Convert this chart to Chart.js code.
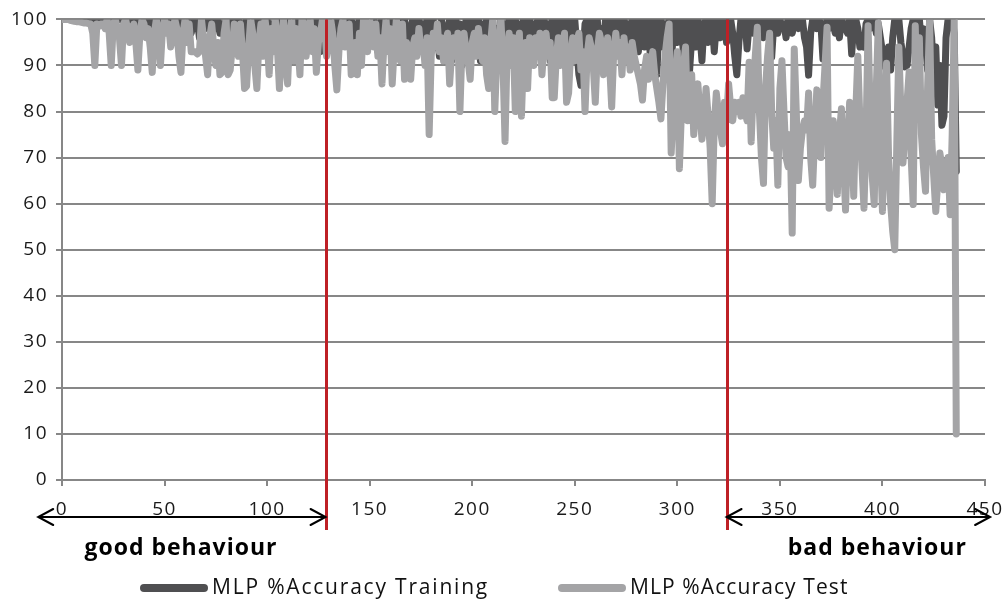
<!DOCTYPE html>
<html>
<head>
<meta charset="utf-8">
<script src="https://cdn.jsdelivr.net/npm/chart.js@4.4.1/dist/chart.umd.min.js"></script>
<style>
  html, body { margin: 0; padding: 0; background: #fff; }
  #wrap { width: 1005px; height: 603px; }
</style>
</head>
<body>
<div id="wrap"><canvas id="accChart" width="1005" height="603"></canvas></div>
<script>
// accuracy per run (index = run number)
const trainAcc = [
  100,100,100,100,100,100,100,100,100,100,
  100,100,100,100,100,100,100,100,100,100,
  100,100,99.5,100,100,100,99.5,100,100,100,
  100,100,99.5,100,100,100,100,99,97,98,
  100,99,100,100,98.5,100,100,99,100,100,
  99,100,100,97,100,99,100,98,100,99,
  96,99,100,97,99.5,98,100,96,99,100,
  98,100,99,96.5,100,98,100,97,99,96.5,
  100,99,97,100,95,99,100,97,93,99,
  100,96,98,93,100,97,95,100,93,98,
  100,94,99,97,100,93,98,100,95,99,
  100,96,93,99,100,95,98,100,97,94,
  100,98,95,99,100,96,93,100,99,97,
  100,95,98,94,100,97,99,95,100,96,
  98,100,94,99,97,100,95,98,100,96,
  99,95,100,97,93,99,100,96,98,94,
  100,97,95,99,100,94,98,100,96,92,
  98,100,94,97,100,95,99,96,100,93,
  99,100,94,97,92,100,96,93,98,100,
  91,97,100,94,99,90,96,100,92,98,
  100,93,97,100,91,99,95,100,94,97,
  100,92,98,95,100,93,99,96,100,91,
  97,100,94,99,92,100,95,98,100,93,
  99,96,100,92,97,100,94,99,91,100,
  96,100,93,98,100,90,97,100,95,99,
  100,94,88,85.7,92,99,100,96,93,100,
  97,100,91,98,95,100,93,99,100,94,
  98,100,92,97,100,95,99,91,100,96,
  100,93,98,100,94,97,100,90,96,100,
  88,98,100,94,99,96,100,90,97,100,
  95,99,100,92,98,100,89,96,100,94,
  100,97,91,99,100,95,98,100,93,99,
  100,96,99,100,95,98,100,97,92,88,
  95,100,98,100,93.6,99,100,97,100,98,
  100,99,96,100,98,100,91.8,99,100,97,
  100,98,99,96,100,100,97,99,100,98,
  99,100,96,94,87.9,97,100,99,98,100,
  99,91.4,97,100,98,100,99,97,100,96,
  100,99,98,97,100,92.5,99,100,98,94,
  95,94,99,100,98,100,100,97,99,96,
  93,90,89,94,89,96,100,98,100,95,
  92,89.7,90,94,98,100,97,96,100,95,
  98,95,89,100,96,87,94,81.4,90,77,
  79,96,100,99,100,97,67
];

const testAcc = [
  100,100,100,100,99.8,99.7,99.6,99.5,99.5,99.4,
  99.3,99.2,99.2,99.1,99,97,90,99,98.5,99,
  99,98,100,97,90,99,100,98,96,90,
  99,100,98,95,97,99,95,89,97,100,
  99,96,98,94,88.5,97,100,96,90,98,
  100,97,99,94,96,100,98,92,88.5,97,
  100,95,99,93,93,93,92.5,93,100,96,
  92,88,96,99,94,90,95,88,88.5,97,
  100,88,89,94,99,96,92,99,93,85,
  85.5,94,100,97,90,85,95,99,92,100,
  96,88,98,93,100,94,85,96,100,90,
  86,97,100,91,98,95,88,100,99,92,
  96,100,93,98,88.5,95,97,100,99,92,
  95,100,97,90,84.7,93,98,100,94,97,
  99,88,92,95,88,97,90,100,96,93,
  100,97,94,99,92,96,86,95,100,93,
  98,86,94,100,96,91,99,87,95,93,
  87,94,96,92,98,93,95,90,96,75,
  92,97,94,99,93,96,91,95,97,86,
  93,96,92,97,80,94,97,93,91,87,
  95,97,92,98,94,91,96,88,85,95,
  100,80,92,95,100,90,73.5,93,97,90,
  96,80,94,97,79,92,95,85,96,93,
  90,96,93,97,88,94,97,92,95,83,
  83,92,96,90,94,97,82,84,93,96,
  91,95,97,89,93,80,92,96,94,90,
  82,93,97,95,88,92,96,90,81,93,
  97,92,95,88,96,91,94,89,95,92,
  90,88,86,82.5,89,92,87,90,93,88,
  85,82,78.4,86,92,96,99,71,80,88,
  93,67.6,80,90,94,78,85,88,75,82,
  86,80,74,78,85,79,72,60,77,84,
  80,76,73,82,78,86,81,78,82,80,
  82,79,83,80,78,90.7,73.4,85,92,98.3,
  80,70,64.4,85,92,97,80,72,78,64,
  85,91,80,70,68,75,53.6,93.6,80,65,
  72,76,78,76,84,70,64,75,84.7,78,
  70,82,90,98.3,59,68,78,73,62,75,
  80.6,70,58.6,72,82,75,61.6,80,92,78,
  68,59,75,98.6,80,66,59.8,85,99.3,72,
  58.3,75,90.5,70,60,54,50,73,94,80,
  68.8,75,82,88.6,70,59.8,98.6,80,96,75,
  68,62.7,85,100,74,66,58.3,65,71,68,
  63,66,70,57.6,75,100,10
];

const seriesNames = ['MLP %Accuracy Training', 'MLP %Accuracy Test'];
const seriesColors = ['#4f4f51', '#a4a4a6'];

// x positions of the red separators and the behaviour spans below the axis
const boundaries = [128.5, 324];
const regions = [
  { from: -11.6, to: 128.5, labelAt: 58, text: 'good behaviour' },
  { from: 324, to: 452.5, labelAt: 397.5, text: 'bad behaviour' }
];

const gridColor = '#878787';
const tickFont = { family: 'Open Sans', size: 19 };

function toPoints(arr) {
  return arr.map((v, i) => ({ x: i, y: v }));
}

const overlay = {
  id: 'overlay',
  beforeDraw(chart) {
    chart.ctx.letterSpacing = '1.5px';
  },
  afterDatasetsDraw(chart) {
    const ctx = chart.ctx;
    const xs = chart.scales.x;
    const area = chart.chartArea;
    ctx.save();
    ctx.strokeStyle = '#be2026';
    ctx.lineWidth = 3;
    boundaries.forEach(b => {
      const px = Math.round(xs.getPixelForValue(b)) + 0.5;
      ctx.beginPath();
      ctx.moveTo(px, area.top);
      ctx.lineTo(px, area.bottom + 50);
      ctx.stroke();
    });
    ctx.restore();
  },
  afterDraw(chart) {
    const ctx = chart.ctx;
    const xs = chart.scales.x;
    const area = chart.chartArea;
    const arrowY = area.bottom + 37;

    ctx.save();
    ctx.strokeStyle = '#000';
    ctx.lineWidth = 2;
    ctx.lineCap = 'round';
    regions.forEach(r => {
      const x1 = xs.getPixelForValue(r.from);
      const x2 = xs.getPixelForValue(r.to);
      ctx.beginPath();
      ctx.moveTo(x1, arrowY);
      ctx.lineTo(x2, arrowY);
      // heads
      ctx.moveTo(x1 + 15, arrowY - 8);
      ctx.lineTo(x1, arrowY);
      ctx.lineTo(x1 + 15, arrowY + 8);
      ctx.moveTo(x2 - 15, arrowY - 8);
      ctx.lineTo(x2, arrowY);
      ctx.lineTo(x2 - 15, arrowY + 8);
      ctx.stroke();

      ctx.letterSpacing = '1px';
      ctx.font = 'bold 23px "Open Sans"';
      ctx.fillStyle = '#000';
      ctx.textAlign = 'center';
      ctx.textBaseline = 'middle';
      ctx.fillText(r.text, xs.getPixelForValue(r.labelAt), area.bottom + 68);
    });

    // legend
    const legendY = 588;
    const legendX = [140, 558];
    ctx.font = '21px "Open Sans"';
    ctx.textAlign = 'left';
    ctx.textBaseline = 'middle';
    chart.data.datasets.forEach((ds, i) => {
      const lx = legendX[i];
      ctx.strokeStyle = ds.borderColor;
      ctx.lineWidth = 8;
      ctx.beginPath();
      ctx.moveTo(lx + 4, legendY);
      ctx.lineTo(lx + 64, legendY);
      ctx.stroke();
      ctx.fillStyle = '#111';
      ctx.letterSpacing = i === 0 ? '1.8px' : '1.1px';
      ctx.fillText(ds.label, lx + 72, legendY);
    });
    ctx.restore();
  }
};

new Chart(document.getElementById('accChart'), {
  type: 'line',
  data: {
    datasets: [
      {
        label: seriesNames[0],
        data: toPoints(trainAcc),
        borderColor: seriesColors[0],
        borderWidth: 7,
        pointRadius: 0,
        borderJoinStyle: 'round',
        borderCapStyle: 'round',
        order: 1
      },
      {
        label: seriesNames[1],
        data: toPoints(testAcc),
        borderColor: seriesColors[1],
        borderWidth: 7,
        pointRadius: 0,
        borderJoinStyle: 'round',
        borderCapStyle: 'round',
        order: 0
      }
    ]
  },
  options: {
    responsive: false,
    animation: false,
    devicePixelRatio: 1,
    layout: { padding: { left: 0, top: 17, right: 20, bottom: 0 } },
    plugins: {
      legend: { display: false },
      tooltip: { enabled: false }
    },
    scales: {
      x: {
        type: 'linear',
        min: 0,
        max: 450,
        afterFit: s => { s.height = 123; s.paddingRight = 0; },
        ticks: { stepSize: 50, font: tickFont, color: '#1a1a1a', padding: 12, maxRotation: 0 },
        grid: { drawOnChartArea: false, drawTicks: true, tickLength: 6, color: gridColor, lineWidth: 2 },
        border: { color: gridColor, width: 2 }
      },
      y: {
        min: 0,
        max: 100,
        afterFit: s => { s.width = 62; },
        ticks: { stepSize: 10, font: tickFont, color: '#1a1a1a', padding: 8 },
        grid: { color: gridColor, lineWidth: 2, tickLength: 6 },
        border: { color: gridColor, width: 2 }
      }
    }
  },
  plugins: [overlay]
});
</script>
</body>
</html>
